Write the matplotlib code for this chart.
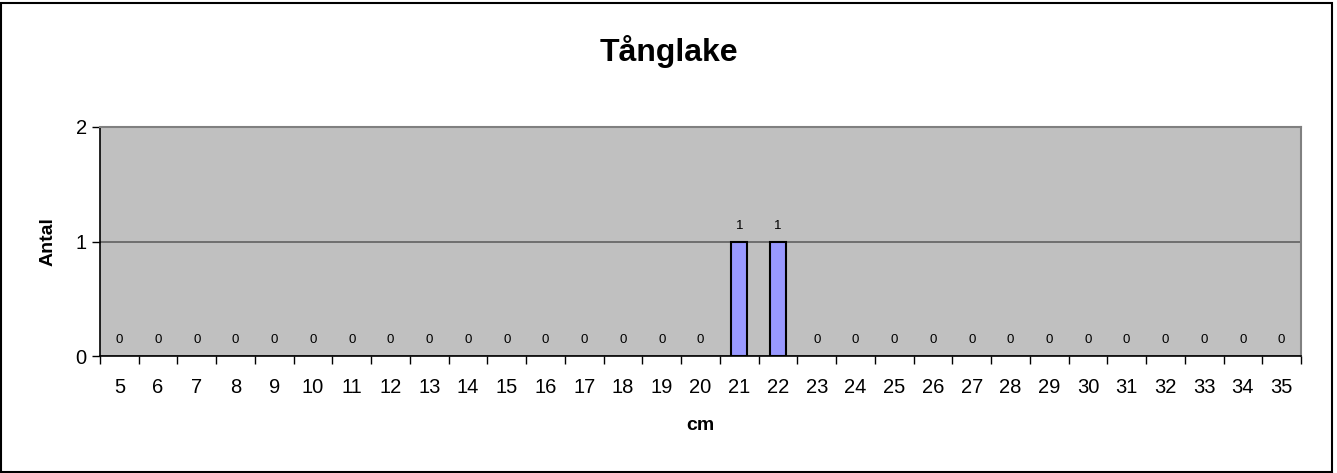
import matplotlib
matplotlib.use("Agg")
import matplotlib.pyplot as plt
import numpy as np

plt.rcParams['font.family'] = ['Liberation Sans', 'DejaVu Sans']

# Données
langder = list(range(5, 36))  # cm
antal = [0] * 16 + [1, 1] + [0] * 13

fig = plt.figure(figsize=(13.37, 4.73), dpi=100)
ax = fig.add_axes([100 / 1337, 1 - 356 / 473, 1201 / 1337, 229 / 473])
ax.set_facecolor('#C0C0C0')

x = np.arange(len(langder))
lw = [1.5 if v > 0 else 0 for v in antal]  # pas de contour pour les barres vides
ax.bar(x, antal, width=0.4, color='#9999FF', edgecolor='black', linewidth=lw, zorder=3)

# étiquettes de données
for xi, v in zip(x, antal):
    ax.annotate(str(v), (xi, v), xytext=(0, 7), textcoords='offset points',
                ha='center', va='bottom', fontsize=9.5)

ax.set_xlim(-0.5, len(langder) - 0.5)
ax.set_ylim(0, 2)
ax.set_yticks([0, 1, 2])
ax.set_yticklabels(['0', '1', '2'], fontsize=14.5)
ax.yaxis.grid(True, color='#606060', linewidth=1.2, zorder=1)
ax.set_axisbelow(True)

# ticks entre les catégories, labels au centre
ax.set_xticks(np.arange(len(langder) + 1) - 0.5)
ax.set_xticklabels([])
ax.set_xticks(x, minor=True)
ax.set_xticklabels([str(v) for v in langder], minor=True, fontsize=14.5)
ax.tick_params(axis='x', which='minor', length=0, pad=16)
ax.tick_params(axis='both', which='major', direction='out', length=6, width=1, color='black')

for s in ['top', 'right']:
    ax.spines[s].set_color('#808080')
    ax.spines[s].set_linewidth(1.5)
for s in ['left', 'bottom']:
    ax.spines[s].set_color('black')
    ax.spines[s].set_linewidth(1.2)

ax.set_xlabel('cm', fontsize=14, fontweight='bold', labelpad=14)
ax.set_ylabel('Antal', fontsize=14, fontweight='bold', labelpad=14)
fig.text(0.5, 1 - 52 / 473, 'Tånglake', ha='center', va='center', fontsize=23, fontweight='bold')

# cadre autour du graphique
fig.patches.append(plt.Rectangle((1 / 1337, 1 / 473), 1331 / 1337, 469 / 473, transform=fig.transFigure,
                                 fill=False, edgecolor='black', linewidth=1.5))

fig.savefig('out.png', dpi=100)
